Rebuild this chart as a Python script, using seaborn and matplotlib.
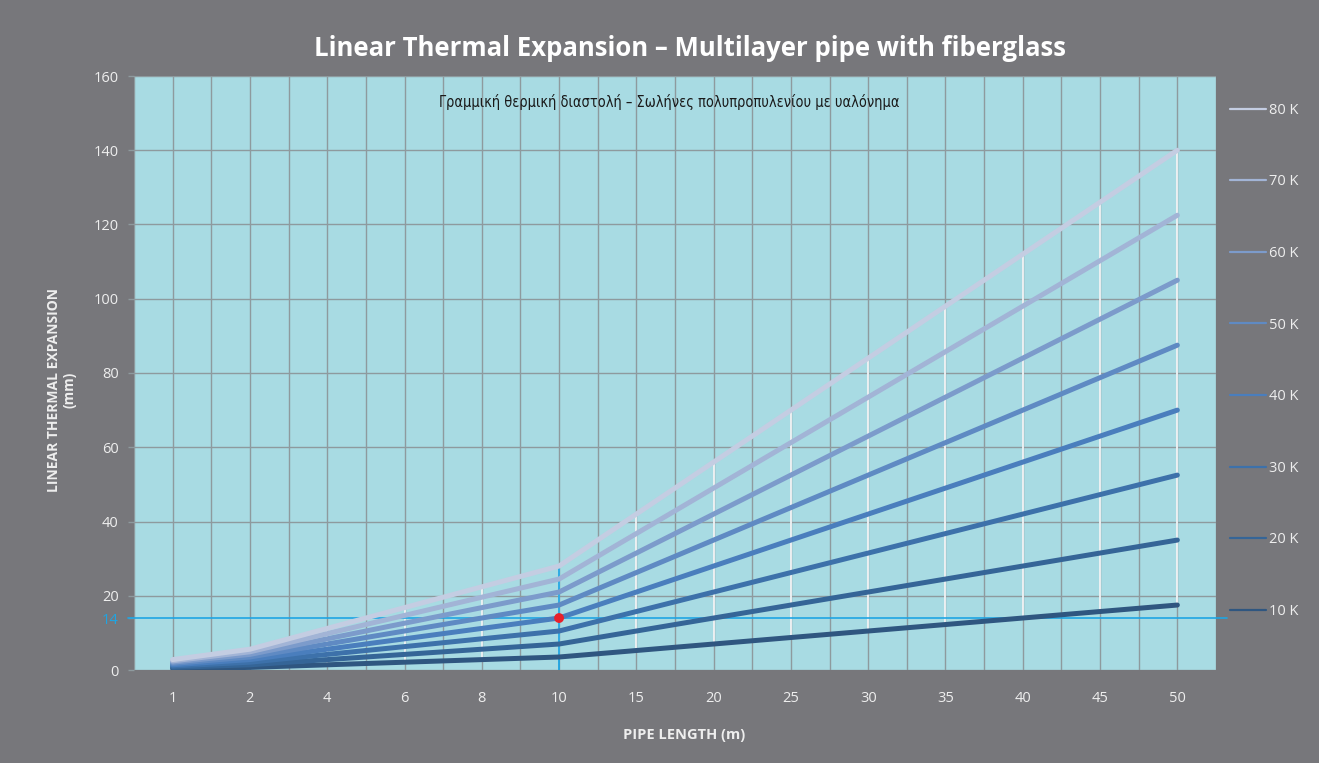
import numpy as np
import pandas as pd
import matplotlib
matplotlib.use("Agg")
import matplotlib.pyplot as plt
from matplotlib import font_manager
from matplotlib.lines import Line2D
import seaborn as sns

# ---------------- data ----------------
lengths = ["1", "2", "4", "6", "8", "10", "15", "20", "25", "30", "35", "40", "45", "50"]
delta_t = ["10 K", "20 K", "30 K", "40 K", "50 K", "60 K", "70 K", "80 K"]
exp_10k = [0.35, 0.7, 1.4, 2.1, 2.8, 3.5, 5.25, 7.0, 8.75, 10.5, 12.25, 14.0, 15.75, 17.5]
exp_20k = [0.7, 1.4, 2.8, 4.2, 5.6, 7.0, 10.5, 14.0, 17.5, 21.0, 24.5, 28.0, 31.5, 35.0]
exp_30k = [1.05, 2.1, 4.2, 6.3, 8.4, 10.5, 15.75, 21.0, 26.25, 31.5, 36.75, 42.0, 47.25, 52.5]
exp_40k = [1.4, 2.8, 5.6, 8.4, 11.2, 14.0, 21.0, 28.0, 35.0, 42.0, 49.0, 56.0, 63.0, 70.0]
exp_50k = [1.75, 3.5, 7.0, 10.5, 14.0, 17.5, 26.25, 35.0, 43.75, 52.5, 61.25, 70.0, 78.75, 87.5]
exp_60k = [2.1, 4.2, 8.4, 12.6, 16.8, 21.0, 31.5, 42.0, 52.5, 63.0, 73.5, 84.0, 94.5, 105.0]
exp_70k = [2.45, 4.9, 9.8, 14.7, 19.6, 24.5, 36.75, 49.0, 61.25, 73.5, 85.75, 98.0, 110.25, 122.5]
exp_80k = [2.8, 5.6, 11.2, 16.8, 22.4, 28.0, 42.0, 56.0, 70.0, 84.0, 98.0, 112.0, 126.0, 140.0]
series = [exp_10k, exp_20k, exp_30k, exp_40k, exp_50k, exp_60k, exp_70k, exp_80k]
y_ticks = [0, 20, 40, 60, 80, 100, 120, 140, 160]
mark_length = "10"
mark_value = 14

colors = ["#2f5680", "#356597", "#3d71aa", "#4a7ebd", "#5f8ac3", "#7c9bcb", "#a2b4d6", "#c4cde2"]

# ---------------- build table ----------------
pos = list(range(len(lengths)))
rows = []
for lab, vals in zip(delta_t, series):
    for p, v in zip(pos, vals):
        rows.append({"pos": p, "value": v, "dT": lab})
df = pd.DataFrame(rows)

sns.set_theme(style="white")
plt.rcParams["font.family"] = ["Open Sans", "DejaVu Sans"]

avail = {f.name for f in font_manager.fontManager.ttflist}
if "Liberation Sans Narrow" in avail:
    sub_family = ["Liberation Sans Narrow", "DejaVu Sans"]
    sub_stretch = "normal"
else:
    sub_family = ["DejaVu Sans"]
    sub_stretch = "condensed"

BG = "#77777b"
PLOT_BG = "#a8dbe3"
GRID = "#8e9a9e"
TXT = "#eeeeee"
BLUE = "#1ea5e3"

fig = plt.figure(figsize=(13.19, 7.63), dpi=100, facecolor=BG)
ax = fig.add_axes([134 / 1319, 1 - 670 / 763, (1216 - 134) / 1319, (670 - 76) / 763])
ax.set_facecolor(PLOT_BG)

ax.set_xlim(-0.5, len(lengths) - 0.5)
ax.set_ylim(0, 160)

# grid: vertical at categories and midpoints, horizontal at 20
for gx in np.arange(-0.5, len(lengths), 0.5):
    ax.axvline(gx, color=GRID, lw=1.0, zorder=0.5)
for gy in y_ticks:
    ax.axhline(gy, color=GRID, lw=1.0, zorder=0.5)

# high-low lines
lo = np.min(np.array(series), axis=0)
hi = np.max(np.array(series), axis=0)
ax.vlines(pos, lo, hi, color="#f2f4f6", lw=1.3, zorder=1)

# highlight lines
mi = lengths.index(mark_length)
ax.vlines([mi], 0, hi[mi], color=BLUE, lw=1.3, zorder=1.5)
ax.axhline(mark_value, xmin=-0.006, xmax=1.01, color=BLUE, lw=1.2, zorder=1.5, clip_on=False)

sns.lineplot(data=df, x="pos", y="value", hue="dT", hue_order=delta_t,
             palette=colors, lw=3.6, ax=ax, legend=False, zorder=2,
             solid_capstyle="round")

ax.scatter([mi], [mark_value], s=50, color="#e8202a", zorder=5, edgecolor="none")

# ticks
ax.set_xticks(pos)
ax.set_xticklabels(lengths)
ax.set_yticks(y_ticks + [mark_value])
ax.set_yticklabels([str(t) for t in y_ticks] + [str(mark_value)])
ax.tick_params(axis="x", length=0, pad=15, labelsize=10.5, labelcolor=TXT)
ax.tick_params(axis="y", length=4, width=1, color=GRID, pad=7, labelsize=10.5, labelcolor=TXT, left=True)
ax.get_yticklabels()[-1].set_color(BLUE)
for s in ax.spines.values():
    s.set_visible(False)

ax.set_xlabel("PIPE LENGTH (m)", color=TXT, fontsize=10.5, fontweight="bold")
ax.xaxis.set_label_coords(0.508, -0.097)
ax.set_ylabel("LINEAR THERMAL EXPANSION\n(mm)", color=TXT, fontsize=10, fontweight="bold")
ax.yaxis.set_label_coords(-0.0527, 0.471)

fig.text(690 / 1319, 1 - 49 / 763, "Linear Thermal Expansion – Multilayer pipe with fiberglass",
         ha="center", va="center", color="white", fontsize=18.5, fontweight="bold")
sub = ax.text(0.495, 0.956, "Γραμμική θερμική διαστολή – Σωλήνες πολυπροπυλενίου με υαλόνημα",
              transform=ax.transAxes, ha="center", va="center", color="#1a1a1a", fontsize=12,
              family=sub_family, fontstretch=sub_stretch)
# fit subtitle to the reference width (~460 px)
fig.canvas.draw()
w = sub.get_window_extent(renderer=fig.canvas.get_renderer()).width
if w > 0:
    sub.set_fontsize(12 * 460 / w)

# legend
handles = [Line2D([0], [0], color=c, lw=1.6) for c in colors]
leg = ax.legend(handles[::-1], delta_t[::-1], loc="upper left",
                bbox_to_anchor=(1.0004, 0.977), frameon=False, fontsize=10.5,
                handlelength=2.5, handletextpad=0.2, labelspacing=3.88, labelcolor=TXT)

fig.savefig("out.png", dpi=100, facecolor=BG)
